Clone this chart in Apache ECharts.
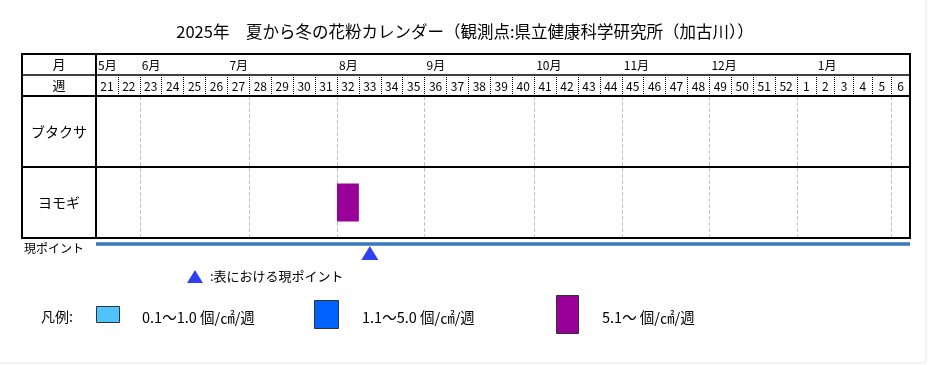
<!DOCTYPE html>
<html><head><meta charset="utf-8">
<script src="https://cdn.jsdelivr.net/npm/echarts@6/dist/echarts.min.js"></script>
<style>html,body{margin:0;padding:0;background:#fff}#c{width:930px;height:365px}</style>
</head><body><div id="c"></div>
<script>
// ---- data ----
const titleText = '2025年　夏から冬の花粉カレンダー（観測点:県立健康科学研究所（加古川））';
const weeks2025 = ['21','22','23','24','25','26','27','28','29','30','31','32','33','34','35','36','37','38','39','40','41','42','43','44','45','46','47','48','49','50','51','52'];
const weeks2026 = ['1','2','3','4','5','6'];
const plants = ['ブタクサ','ヨモギ'];
const monthLabels = ['5月','6月','7月','8月','9月','10月','11月','12月','1月'];
const monthLabelWeeks2025 = ['21','23','27','32','36','41','45','49'];
const monthLabelWeeks2026 = ['','2'];
const monthLineWeeks2025 = ['23','28','32','36','41','45','49'];
const monthLineWeeks2026 = ['1','6'];
const pollenPlant = ['ヨモギ'];
const pollenWeek = ['32'];
const pollenLevel = [3];
const currentWeek = '33';
const levelLabels = ['0.1～1.0 個/㎠/週','1.1～5.0 個/㎠/週','5.1～ 個/㎠/週'];

// ---- styles / layout ----
const FONT = '"Noto Sans CJK JP", "Noto Sans", sans-serif';
const levelColors = ['#4fc3fb', '#0062ff', '#990099'];
const levelHeights = [16, 28, 38];
const L = 22, X0 = 96, X1 = 797, X2 = 910;
const Y0 = 54, Y1 = 75, Y2 = 96, Y3 = 167, Y4 = 238;

const boundaries2025 = weeks2025.concat(['1']);
const boundaries2026 = weeks2026.concat(['7']);

function monthFmt(labelsWeeks, offset) {
  return function (v) {
    const i = labelsWeeks.indexOf(v);
    return i >= 0 && v !== '' ? monthLabels[i + offset] : '';
  };
}

function renderPollen(params, api) {
  const c = api.coord([api.value(0), api.value(1)]);
  const s = api.size([1, 1]);
  const lv = api.value(2) - 1;
  const h = levelHeights[lv];
  return {
    type: 'rect',
    shape: { x: c[0] - s[0] / 2, y: c[1] - h / 2, width: s[0], height: h },
    style: { fill: levelColors[lv] }
  };
}

const data2025 = [], data2026 = [];
pollenWeek.forEach((w, i) => {
  const row = [w, pollenPlant[i], pollenLevel[i]];
  if (weeks2025.indexOf(w) >= 0) data2025.push(row); else data2026.push(row);
});

function weekAxis(gridIndex, data) {
  return {
    type: 'category', gridIndex, data, position: 'top', boundaryGap: true,
    axisLine: { show: false },
    axisTick: { show: true, interval: 0, length: 20, lineStyle: { color: '#000', type: 'dotted', width: 1 } },
    axisLabel: { interval: 0, margin: 4, fontSize: 12, color: '#000', fontFamily: FONT },
    splitLine: { show: false }
  };
}
function boundaryAxis(gridIndex, data, labelWeeks, offset, lineWeeks) {
  return {
    type: 'category', gridIndex, data, position: 'top', boundaryGap: false, offset: Y2 - Y1,
    axisLine: { show: false }, axisTick: { show: false },
    axisLabel: { interval: 0, margin: 4, fontSize: 12, color: '#000', fontFamily: FONT, align: 'left',
      padding: [0, 0, 0, 2], formatter: monthFmt(labelWeeks, offset) },
    splitLine: { show: true, interval: (idx, v) => lineWeeks.indexOf(v) >= 0,
      lineStyle: { color: '#c4c4c4', type: 'dashed', width: 1 } }
  };
}

const chart = echarts.init(document.getElementById('c'), null, { renderer: 'canvas' });

const txt = (x, y, text, size, align) => ({
  type: 'text', x, y, z: 110,
  style: { text, fontSize: size, fontFamily: FONT, fill: '#000', align: align || 'left', verticalAlign: 'middle' }
});
const line = (x1, y1, x2, y2, w, color) => ({
  type: 'line', z: 100, shape: { x1, y1, x2, y2 }, style: { stroke: color || '#000', lineWidth: w }
});

const graphics = [
  // frame
  { type: 'rect', z: 100, shape: { x: L, y: Y0, width: X2 - L, height: Y4 - Y0 }, style: { fill: 'none', stroke: '#000', lineWidth: 2 } },
  line(L, Y1, X2, Y1, 1.5),
  line(L, Y2, X2, Y2, 2),
  line(L, Y3, X2, Y3, 2),
  line(X0, Y0, X0, Y4, 2),
  txt((L + X0) / 2, (Y0 + Y1) / 2, '月', 13, 'center'),
  txt((L + X0) / 2, (Y1 + Y2) / 2, '週', 13, 'center'),
  // current point line
  line(X0, 244, X2, 244, 3.5, '#3a78c2'),
  txt(24, 248, '現ポイント', 12),
  // explanation
  { type: 'polygon', z: 110, shape: { points: [[187, 283], [203, 283], [195, 270]] }, style: { fill: '#3040f0' } },
  txt(210, 276, ':表における現ポイント', 13),
  // legend
  txt(41, 317, '凡例:', 14),
  { type: 'rect', z: 110, shape: { x: 96.5, y: 306.5, width: 23, height: 16 }, style: { fill: levelColors[0], stroke: '#333', lineWidth: 1 } },
  txt(142, 317, levelLabels[0], 14.5),
  { type: 'rect', z: 110, shape: { x: 314.5, y: 300.5, width: 24, height: 28 }, style: { fill: levelColors[1], stroke: '#333', lineWidth: 1 } },
  txt(362, 317, levelLabels[1], 14.5),
  { type: 'rect', z: 110, shape: { x: 556.5, y: 295.5, width: 22, height: 38 }, style: { fill: levelColors[2], stroke: '#333', lineWidth: 1 } },
  txt(602, 317, levelLabels[2], 14.5),
  // faint page edge
  line(926, 0, 926, 363, 1, '#e8e8e8'),
  line(0, 363, 926, 363, 1, '#e8e8e8')
];

chart.setOption({
  backgroundColor: '#fff',
  animation: false,
  title: { text: titleText, left: 'center', top: 18,
    textStyle: { fontSize: 16.5, fontWeight: 'normal', color: '#000', fontFamily: FONT } },
  grid: [
    { left: X0, top: Y2, width: X1 - X0, height: Y4 - Y2 },
    { left: X1, top: Y2, width: X2 - X1, height: Y4 - Y2 },
    { left: X0, top: 246, width: X1 - X0, height: 14 }
  ],
  xAxis: [
    weekAxis(0, weeks2025),
    boundaryAxis(0, boundaries2025, monthLabelWeeks2025, 0, monthLineWeeks2025),
    weekAxis(1, weeks2026),
    boundaryAxis(1, boundaries2026, monthLabelWeeks2026, monthLabelWeeks2025.length - 1, monthLineWeeks2026),
    { type: 'category', gridIndex: 2, data: weeks2025, show: false }
  ],
  yAxis: [
    { type: 'category', gridIndex: 0, data: plants, inverse: true,
      axisLine: { show: false }, axisTick: { show: false }, splitLine: { show: false },
      axisLabel: { align: 'center', margin: X0 - (L + X0) / 2, fontSize: 14, color: '#000', fontFamily: FONT } },
    { type: 'category', gridIndex: 1, data: plants, inverse: true, show: false },
    { type: 'value', gridIndex: 2, min: 0, max: 1, show: false }
  ],
  series: [
    { type: 'custom', xAxisIndex: 0, yAxisIndex: 0, renderItem: renderPollen, data: data2025, encode: { x: 0, y: 1 } },
    { type: 'custom', xAxisIndex: 2, yAxisIndex: 1, renderItem: renderPollen, data: data2026, encode: { x: 0, y: 1 } },
    { type: 'scatter', xAxisIndex: 4, yAxisIndex: 2, symbol: 'triangle', symbolSize: [17, 14],
      itemStyle: { color: '#3040f0', opacity: 1 }, data: [[currentWeek, 0.5]] }
  ],
  graphic: graphics
});
</script>
</body></html>
